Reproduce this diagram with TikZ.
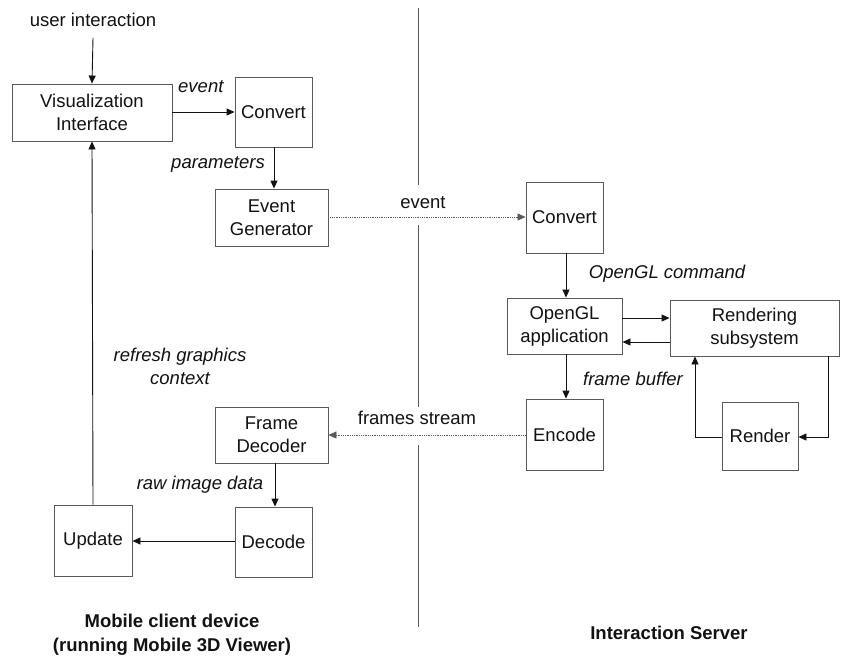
\documentclass[tikz,border=0pt]{standalone}
\usepackage{fontspec}
\setmainfont{Liberation Sans}
\usetikzlibrary{arrows.meta}
\definecolor{edge}{gray}{0.35}
\definecolor{ink}{gray}{0.07}
\tikzset{
  box/.style={draw=edge, line width=0.9pt, fill=white, align=center, inner sep=0pt,
              text=ink, font=\fontsize{18.5}{23}\selectfont},
  flow/.style={draw=ink, line width=0.9pt, -{Triangle[length=8pt,width=7pt]}},
  wire/.style={draw=ink, line width=0.9pt},
  dotflow/.style={draw=edge, line width=0.8pt, densely dotted, -{Triangle[length=8pt,width=7pt]}},
  lbl/.style={text=ink, font=\fontsize{18.5}{23}\selectfont\itshape, align=center, inner sep=0pt},
  plain/.style={text=ink, font=\fontsize{18.5}{23}\selectfont, align=center, inner sep=0pt},
  head/.style={text=ink, font=\fontsize{18.5}{24}\selectfont\bfseries, align=center, inner sep=0pt},
  divider/.style={draw=edge, line width=0.9pt}
}
\begin{document}
\begin{tikzpicture}[x=1pt,y=-1pt]
\useasboundingbox[fill=white] (0,0) rectangle (842,659);

% divider between client and server
\coordinate (d0) at (418,8);
\coordinate (d1) at (418,185);
\coordinate (d2) at (418,225);
\coordinate (d3) at (418,407);
\coordinate (d4) at (418,445);
\coordinate (d5) at (418,627);
\draw[divider] (d0) -- (d1) (d2) -- (d3) (d4) -- (d5);

% client side
\node[plain] (ui) at (93,20) {user interaction};
\node[box, minimum width=160pt, minimum height=57pt] (vi) at (92,112.5) {Visualization\\Interface};
\node[box, minimum width=77pt, minimum height=70pt] (cc) at (273.5,112) {Convert};
\node[box, minimum width=113pt, minimum height=57pt] (eg) at (271.5,217.5) {Event\\Generator};
\node[box, minimum width=113pt, minimum height=56pt] (fd) at (271.5,435) {Frame\\Decoder};
\node[box, minimum width=77pt, minimum height=70pt] (dec) at (273.5,542) {Decode};
\node[box, minimum width=78pt, minimum height=71pt] (up) at (93,540.5) {Update};

% server side
\node[box, minimum width=77pt, minimum height=71pt] (sc) at (564.5,217.5) {Convert};
\node[box, minimum width=115pt, minimum height=56pt] (ogl) at (564.5,326) {OpenGL\\application};
\node[box, minimum width=169pt, minimum height=56pt] (rs) at (754.5,328) {Rendering\\subsystem};
\node[box, minimum width=77pt, minimum height=71pt] (enc) at (564.5,434.5) {Encode};
\node[box, minimum width=76pt, minimum height=68pt] (ren) at (760,436) {Render};

% client flow
\draw[flow] (ui.south |- 0,38) -- (vi.north);
\draw[flow] (vi.east |- 0,112) -- (cc.west |- 0,112);
\node[lbl, anchor=west] (le) at (178,87) {event};
\draw[flow] (cc.south -| 274,0) -- (eg.north -| 274,0);
\node[lbl] (lp) at (218,164) {parameters};
\draw[dotflow] (eg.east |- 0,217) -- (sc.west |- 0,217);
\node[plain] (lev) at (423,203) {event};

% server flow
\draw[flow] (sc.south -| 566,0) -- (ogl.north -| 566,0);
\node[lbl] (loc) at (667,274) {OpenGL command};
\draw[flow] (ogl.east |- 0,318) -- (rs.west |- 0,318);
\draw[flow] (rs.west |- 0,342) -- (ogl.east |- 0,342);
\draw[flow] (ogl.south -| 566,0) -- (enc.north -| 566,0);
\node[lbl] (lfb) at (633,379) {frame buffer};
\coordinate (rl) at (695,437);
\coordinate (rr) at (828,437);
\draw[flow] (ren.west |- rl) -- (rl) -- (rl |- rs.south);
\draw[flow] (rr |- rs.south) -- (rr) -- (ren.east |- rr);

% back to the client
\draw[dotflow] (enc.west |- 0,435) -- (fd.east |- 0,435);
\node[plain] (lfs) at (417,418) {frames stream};
\draw[flow] (fd.south -| 275,0) -- (dec.north -| 275,0);
\node[lbl] (lri) at (200,485) {raw image data};
\draw[flow] (dec.west |- 0,541) -- (up.east |- 0,541);
\draw[flow] (up.north) -- (vi.south);
\node[lbl] (lrg) at (180,366) {refresh graphics\\context};

% section titles
\node[head] (hc) at (172,635) {Mobile client device\\(running Mobile 3D Viewer)};
\node[head] (hs) at (669,633) {Interaction Server};
\end{tikzpicture}
\end{document}
